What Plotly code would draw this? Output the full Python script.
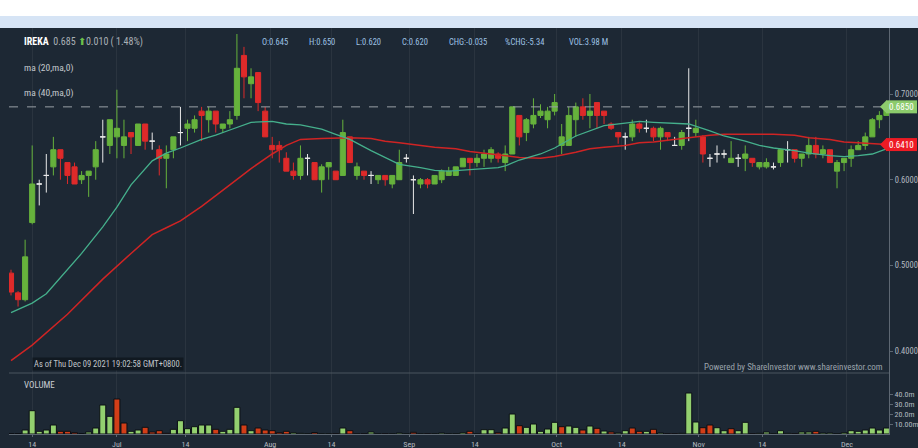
import plotly.graph_objects as go

# ---------------- data ----------------
opens = [0.491,0.468,0.460,0.550,0.595,0.605,0.615,0.635,0.620,0.615,
         0.600,0.605,0.615,0.650,0.640,0.650,0.640,0.655,0.640,0.665,
         0.645,0.635,0.625,0.635,0.655,0.660,0.660,0.680,0.670,0.680,
         0.660,0.665,0.675,0.745,0.712,0.725,0.680,0.640,0.640,0.625,
         0.610,0.605,0.625,0.620,0.600,0.615,0.610,0.605,0.650,0.605,
         0.610,0.605,0.600,0.605,0.595,0.600,0.625,0.600,0.595,0.600,
         0.595,0.600,0.605,0.605,0.615,0.625,0.620,0.625,0.625,0.630,
         0.620,0.630,0.675,0.655,0.665,0.675,0.670,0.680,0.640,0.640,
         0.670,0.685,0.675,0.690,0.680,0.665,0.655,0.650,0.650,0.665,
         0.660,0.660,0.650,0.655,0.640,0.640,0.660,0.655,0.650,0.625,
         0.630,0.630,0.620,0.625,0.625,0.625,0.615,0.615,0.615,0.620,
         0.635,0.635,0.625,0.630,0.640,0.630,0.635,0.610,0.620,0.625,
         0.635,0.640,0.650,0.670,0.675]
highs = [0.495,0.470,0.530,0.640,0.600,0.630,0.650,0.635,0.620,0.620,
         0.610,0.610,0.645,0.670,0.670,0.705,0.670,0.655,0.665,0.665,
         0.655,0.640,0.640,0.650,0.685,0.670,0.675,0.685,0.685,0.680,
         0.665,0.680,0.770,0.755,0.730,0.725,0.685,0.650,0.645,0.632,
         0.620,0.640,0.630,0.620,0.618,0.620,0.610,0.670,0.650,0.620,
         0.610,0.610,0.605,0.605,0.605,0.635,0.630,0.605,0.602,0.602,
         0.605,0.612,0.615,0.615,0.625,0.625,0.630,0.635,0.638,0.632,
         0.640,0.685,0.675,0.672,0.695,0.688,0.685,0.700,0.665,0.685,
         0.690,0.695,0.700,0.690,0.680,0.667,0.655,0.655,0.670,0.667,
         0.670,0.662,0.662,0.655,0.650,0.658,0.730,0.670,0.652,0.630,
         0.640,0.635,0.645,0.630,0.640,0.625,0.620,0.625,0.620,0.635,
         0.645,0.635,0.630,0.650,0.650,0.640,0.635,0.623,0.625,0.640,
         0.645,0.655,0.672,0.680,0.690]
lows = [0.465,0.452,0.458,0.548,0.570,0.585,0.605,0.600,0.595,0.595,
        0.595,0.580,0.600,0.620,0.630,0.625,0.625,0.630,0.640,0.635,
        0.635,0.605,0.590,0.625,0.640,0.645,0.655,0.645,0.655,0.655,
        0.655,0.660,0.670,0.695,0.695,0.680,0.650,0.625,0.620,0.610,
        0.600,0.600,0.605,0.600,0.585,0.600,0.600,0.605,0.620,0.600,
        0.600,0.595,0.595,0.593,0.590,0.600,0.620,0.560,0.590,0.590,
        0.595,0.596,0.605,0.605,0.615,0.605,0.615,0.615,0.620,0.620,
        0.610,0.630,0.640,0.645,0.660,0.672,0.660,0.675,0.630,0.640,
        0.650,0.670,0.660,0.660,0.665,0.658,0.642,0.635,0.645,0.655,
        0.655,0.645,0.635,0.645,0.640,0.635,0.645,0.650,0.620,0.615,
        0.620,0.625,0.620,0.615,0.610,0.615,0.612,0.613,0.612,0.615,
        0.620,0.620,0.615,0.625,0.625,0.625,0.620,0.590,0.610,0.615,
        0.635,0.635,0.650,0.660,0.675]
closes = [0.469,0.460,0.510,0.595,0.595,0.605,0.635,0.625,0.605,0.595,
          0.605,0.610,0.635,0.650,0.670,0.660,0.650,0.650,0.665,0.645,
          0.645,0.625,0.630,0.650,0.655,0.665,0.670,0.675,0.680,0.665,
          0.665,0.670,0.730,0.720,0.720,0.690,0.650,0.635,0.635,0.610,
          0.605,0.625,0.625,0.600,0.615,0.620,0.600,0.655,0.620,0.615,
          0.605,0.605,0.605,0.600,0.605,0.620,0.625,0.600,0.600,0.595,
          0.605,0.610,0.610,0.615,0.625,0.620,0.625,0.630,0.635,0.625,
          0.630,0.685,0.650,0.670,0.675,0.680,0.680,0.690,0.650,0.675,
          0.685,0.675,0.680,0.675,0.675,0.660,0.650,0.650,0.665,0.660,
          0.660,0.650,0.660,0.650,0.640,0.655,0.660,0.660,0.630,0.625,
          0.630,0.630,0.625,0.625,0.630,0.620,0.620,0.620,0.615,0.635,
          0.635,0.625,0.630,0.640,0.630,0.635,0.620,0.620,0.625,0.635,
          0.640,0.650,0.670,0.675,0.685]
volumes = [0.5,0.5,4.0,23.3,2.7,4.0,9.0,2.7,2.7,1.3,
           0.5,2.0,6.0,29.0,17.7,35.0,11.0,2.7,4.0,6.7,
           2.0,3.3,0.7,4.7,13.3,5.3,7.3,9.0,9.0,4.7,
           2.7,4.7,26.7,9.0,3.3,6.0,4.0,3.3,1.3,2.7,
           1.3,0.7,0.3,1.5,0.3,0.3,0.3,6.0,3.3,0.3,
           0.3,2.0,0.3,0.3,0.3,1.0,0.3,1.7,0.3,0.3,
           0.3,1.0,0.3,0.3,1.3,2.7,0.3,4.3,4.3,1.3,
           6.0,20.0,8.3,6.7,10.0,2.7,5.0,11.7,7.3,8.0,
           6.7,4.0,8.0,5.7,3.0,2.0,1.0,3.3,6.0,2.7,
           2.7,4.7,1.0,0.3,0.3,0.7,41.0,12.0,6.3,9.0,
           6.3,3.3,5.3,3.3,11.7,0.3,0.7,2.0,0.3,3.3,
           0.7,0.3,2.0,2.0,2.7,1.0,1.0,0.3,1.3,3.3,
           2.7,4.0,6.0,4.0,6.0]
vol_dir = list("dduuuuuddd" "uuuuudduud" "ddduuuuuud" "uuududdddd"
               "uuuduududu" "duuduuudud" "uuuuuduuud" "uuduuuuudu"
               "udududuudd" "ududduuudd" "uuduuduuuu" "uduuduuuu" "u" "uuuuu")

ma20_idx = [0,3,5,8,10,13,15,17,20,22,24,27,29,31,34,37,39,41,44,46,48,51,53,55,58,
            60,62,65,67,69,70,72,75,77,80,82,84,87,89,91,94,96,99,101,104,106,108,
            111,113,116,118,120,122,124]
ma20_val = [0.445,0.456,0.467,0.496,0.514,0.545,0.568,0.594,0.622,0.631,0.637,0.647,
            0.652,0.658,0.667,0.668,0.665,0.664,0.659,0.653,0.647,0.634,0.626,0.618,
            0.614,0.611,0.610,0.612,0.613,0.614,0.616,0.623,0.630,0.637,0.651,0.657,
            0.663,0.666,0.668,0.667,0.666,0.665,0.657,0.651,0.645,0.640,0.637,0.634,
            0.631,0.628,0.627,0.628,0.630,0.636]
ma40_idx = [0,3,8,13,17,20,22,24,27,29,31,34,37,39,41,44,48,51,53,55,58,60,63,65,68,
            70,72,75,77,80,82,84,87,89,91,93,97,99,101,106,108,111,113,116,118,120,122,124]
ma40_val = [0.389,0.407,0.443,0.484,0.514,0.536,0.544,0.552,0.569,0.581,0.594,0.613,
            0.630,0.640,0.647,0.648,0.649,0.648,0.645,0.643,0.640,0.638,0.636,0.633,
            0.630,0.628,0.626,0.625,0.627,0.632,0.636,0.638,0.640,0.643,0.644,0.646,
            0.650,0.652,0.653,0.653,0.653,0.652,0.649,0.647,0.644,0.643,0.642,0.641]

x_tick_pos = [3, 15, 24.7, 36.7, 45.4, 56.4, 65.7, 77.3, 86.5, 97.4, 106.4, 118.4]
x_tick_text = ["14", "Jul", "14", "Aug", "14", "Sep", "14", "Oct", "14", "Nov", "14", "Dec"]
price_ticks = [0.4, 0.5, 0.6, 0.7]
vol_ticks = [10, 20, 30, 40]
vol_tick_text = ["10.00m", "20.0m", "30.0m", "40.0m"]
current_price = 0.685

header_items = [("O:0.645", 260), ("H:0.650", 307), ("L:0.620", 354), ("C:0.620", 400),
                ("CHG:-0.035", 447), ("%CHG:-5.34", 503), ("VOL:3.98 M", 567)]

# ---------------- geometry helpers ----------------
W, H = 918, 448
L, R, T, B = 9, 889, 28, 434
def px(x):
    return (x - L) / (R - L)
def py(y):
    return (B - y) / (B - T)

VOL_TOP = 373
vol_dom = [0, py(VOL_TOP)]
price_dom = [py(VOL_TOP), 1]

BG = "#1d2834"
FRAME = "#d6e4f5"
GREEN = "#66b23c"
RED = "#de2a2a"
WHITE = "#e8e8e8"
VGREEN = "#93d06f"
VRED = "#d23e18"
TXT = "#c3c8cd"
FONT = "Liberation Sans Narrow, Roboto Condensed, Arial Narrow, Roboto, sans-serif"

fig = go.Figure()

idx = list(range(len(closes)))
groups = {
    GREEN: [i for i in idx if closes[i] > opens[i]],
    RED: [i for i in idx if closes[i] < opens[i]],
    WHITE: [i for i in idx if closes[i] == opens[i]],
}
for col, sel in groups.items():
    fig.add_trace(go.Candlestick(
        x=sel, open=[opens[i] for i in sel], high=[highs[i] for i in sel],
        low=[lows[i] for i in sel], close=[closes[i] for i in sel],
        increasing=dict(line=dict(color=col, width=1), fillcolor=col),
        decreasing=dict(line=dict(color=col, width=1), fillcolor=col),
        xaxis="x", yaxis="y", showlegend=False, hoverinfo="skip"))

fig.add_trace(go.Scatter(x=ma40_idx, y=ma40_val, mode="lines",
                         line=dict(color="#cf2424", width=1.5),
                         xaxis="x", yaxis="y", showlegend=False, hoverinfo="skip"))
fig.add_trace(go.Scatter(x=ma20_idx, y=ma20_val, mode="lines",
                         line=dict(color="#45b08c", width=1.3),
                         xaxis="x", yaxis="y", showlegend=False, hoverinfo="skip"))

fig.add_trace(go.Bar(x=idx, y=volumes,
                     marker=dict(color=[VGREEN if d == "u" else VRED for d in vol_dir],
                                 line=dict(color="#0b0f14", width=1)),
                     xaxis="x2", yaxis="y2", showlegend=False, hoverinfo="skip"))

xr = [(L - 11) / 7.06, (R - 11) / 7.06]
gridc = "rgba(255,255,255,0.06)"
axisc = "#5d6772"
tickfont = dict(family=FONT, size=8, color="#b4bac0")

fig.update_layout(
    width=W, height=H, autosize=False,
    margin=dict(l=L, r=W - R, t=T, b=H - B, autoexpand=False),
    paper_bgcolor=FRAME, plot_bgcolor="rgba(0,0,0,0)",
    boxgap=0.15, boxgroupgap=0.15, bargap=0.15,
    xaxis=dict(domain=[0, 1], range=xr, anchor="y", tickvals=x_tick_pos,
               showticklabels=False, showgrid=True, gridcolor=gridc, zeroline=False,
               rangeslider=dict(visible=False), automargin=False),
    xaxis2=dict(domain=[0, 1], range=xr, anchor="y2", tickvals=x_tick_pos,
                ticktext=x_tick_text, showgrid=True, gridcolor=gridc, zeroline=False,
                ticks="outside", ticklen=2, tickcolor=axisc, showline=True,
                linecolor=axisc, linewidth=1, tickfont=tickfont, ticklabelstandoff=0,
                rangeslider=dict(visible=False), automargin=False),
    yaxis=dict(domain=price_dom, range=[0.3745, 0.777], side="right", anchor="x",
               tickvals=price_ticks, ticktext=[f"{v:.4f}" for v in price_ticks],
               ticks="outside", ticklen=3, tickcolor=axisc, showline=True,
               linecolor=axisc, linewidth=1, showgrid=False, zeroline=False,
               tickfont=dict(family=FONT, size=8.5, color="#b4bac0"), automargin=False),
    yaxis2=dict(domain=vol_dom, range=[0, 61], side="right", anchor="x2",
                tickvals=vol_ticks, ticktext=vol_tick_text, ticks="outside",
                ticklen=3, tickcolor=axisc, showline=True, linecolor=axisc,
                linewidth=1, showgrid=False, zeroline=False,
                tickfont=dict(family=FONT, size=8, color="#b4bac0"), automargin=False),
)

shapes = [
    dict(type="rect", xref="paper", yref="paper", x0=px(0), x1=px(W), y0=py(T), y1=py(H),
         fillcolor=BG, line=dict(width=0), layer="below"),
    dict(type="rect", xref="paper", yref="paper", x0=px(0), x1=px(W), y0=py(0), y1=py(16),
         fillcolor="#ffffff", line=dict(width=0), layer="below"),
    dict(type="line", xref="paper", yref="paper", x0=0, x1=1, y0=py(VOL_TOP), y1=py(VOL_TOP),
         line=dict(color="#4a545e", width=1)),
    dict(type="line", xref="paper", yref="y", x0=0, x1=px(885), y0=current_price, y1=current_price,
         line=dict(color="#9aa0a6", width=1, dash="dash")),
]

def price_label(val, color, text_color="#ffffff"):
    half = 6.5 / 857
    shapes.append(dict(type="rect", xref="paper", yref="y", x0=px(886), x1=px(917),
                       y0=val - half, y1=val + half, fillcolor=color, line=dict(width=0)))
    shapes.append(dict(type="path", xref="paper", yref="y",
                       path=f"M {px(880)} {val} L {px(886.5)} {val + half} L {px(886.5)} {val - half} Z",
                       fillcolor=color, line=dict(width=0)))
    return dict(xref="paper", yref="y", x=px(901.5), y=val, text=f"{val:.4f}",
                showarrow=False, xanchor="center", yanchor="middle",
                font=dict(family=FONT, size=9, color=text_color))

ann = [price_label(current_price, "#8ccb6c"), price_label(ma40_val[-1], "#ee1b24")]

def txt(x, y, s, size=9, color=TXT, anchor="left", **kw):
    return dict(xref="paper", yref="paper", x=px(x), y=py(y), text=s, showarrow=False,
                xanchor=anchor, yanchor="middle", font=dict(family=FONT, size=size, color=color), **kw)

ann.append(txt(22, 42, "<b>IREKA</b>  <span style='color:#a9b0b6'>0.685 </span>"
                       "<span style='color:#6cc04a'>⬆</span>"
                       "<span style='color:#a9b0b6'>0.010 ( 1.48%)</span>", size=10, color="#ffffff"))
for s, x in header_items:
    ann.append(txt(x, 42, s, size=8.5, color="#9dc2e4"))
ann.append(txt(22, 68, "ma (20,ma,0)", size=9.5))
ann.append(txt(22, 93, "ma (40,ma,0)", size=9.5))
ann.append(txt(32, 364, "As of Thu Dec 09 2021 19:02:58 GMT+0800.", size=8.5, color="#c0c5ca",
               bgcolor="#111921", borderpad=1))
ann.append(txt(885, 367, "Powered by ShareInvestor www.shareinvestor.com", size=9,
               color="#9ba3ab", anchor="right"))
ann.append(txt(22, 385, "VOLUME", size=9, color="#c8cdd2"))

fig.update_layout(shapes=shapes, annotations=ann)
fig.write_html("out.html", config={"displayModeBar": False},
               post_script="document.body.style.margin='0';document.body.style.overflow='hidden';")
